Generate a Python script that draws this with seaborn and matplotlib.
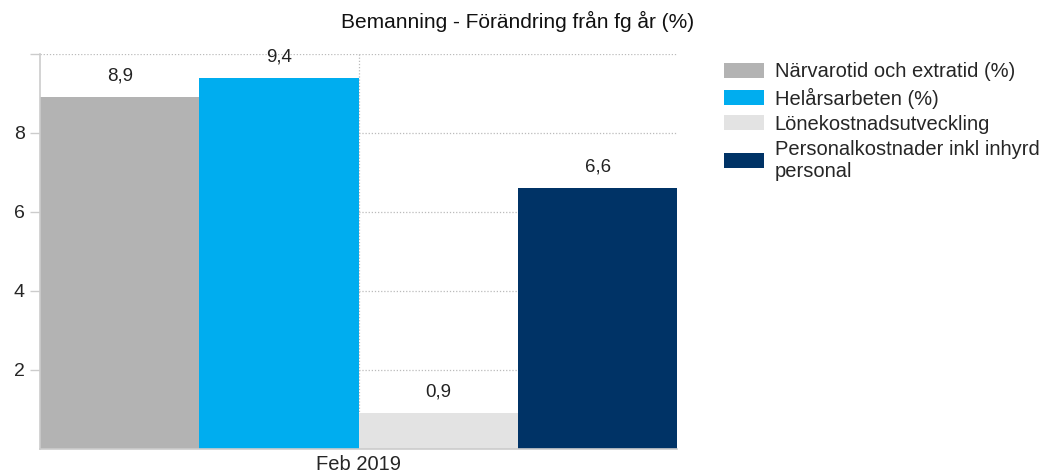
import matplotlib
matplotlib.use("Agg")
import matplotlib.pyplot as plt
import seaborn as sns
import pandas as pd

categories = ["Feb 2019"]
series = ["Närvarotid och extratid (%)", "Helårsarbeten (%)", "Lönekostnadsutveckling",
          "Personalkostnader inkl inhyrd\npersonal"]
values = [8.9, 9.4, 0.9, 6.6]
labels = ["8,9", "9,4", "0,9", "6,6"]
colors = ["#b3b3b3", "#00adef", "#e3e3e3", "#003366"]
yticks = [2, 4, 6, 8]

df = pd.DataFrame({"cat": categories * len(series), "series": series, "value": values})

sns.set_style("white")
plt.rcParams['font.family'] = ['Liberation Sans', 'DejaVu Sans']

fig = plt.figure(figsize=(10.42, 4.73), dpi=100)
ax = fig.add_axes([0.0384, 0.0507, 0.6116, 0.8353])

sns.barplot(data=df, x="cat", y="value", hue="series", palette=colors, width=1.0,
            saturation=1, ax=ax, legend=True, edgecolor="none", linewidth=0)

ax.set_xlim(-0.5, 0.5)
ax.set_ylim(0, 10)
ax.set_yticks(yticks + [10])
ax.set_yticklabels([str(t) for t in yticks] + [""], fontsize=14)
ax.set_xticks([0])
ax.set_xticklabels(categories, fontsize=14.5)
ax.tick_params(axis="x", length=0, pad=4)
ax.tick_params(axis="y", length=7, color="#cccccc", width=1, pad=4, left=True)
ax.set_xlabel("")
ax.set_ylabel("")
ax.set_axisbelow(True)
ax.yaxis.grid(True, linestyle=(0, (1, 1.5)), color="#bbbbbb", linewidth=0.9)
ax.xaxis.grid(True, linestyle=(0, (1, 1.5)), color="#bbbbbb", linewidth=0.9)
for s in ["top", "right"]:
    ax.spines[s].set_visible(False)
for s in ["left", "bottom"]:
    ax.spines[s].set_color("#cccccc")
    ax.spines[s].set_linewidth(1.2)

for cont, lab in zip(ax.containers, labels):
    ax.bar_label(cont, labels=[lab], padding=9, fontsize=13.5, color="#222222")

fig.text(0.497, 0.955, "Bemanning - Förändring från fg år (%)", fontsize=15,
         ha="center", va="center", color="#111111")

h, l = ax.get_legend_handles_labels()
ax.get_legend().remove()
fig.legend(h, l, loc="upper left", bbox_to_anchor=(0.695, 0.868), frameon=False,
           fontsize=14.5, handlelength=2.0, handleheight=0.75, labelspacing=0.3,
           handletextpad=0.5, borderaxespad=0, borderpad=0)

fig.savefig("out.png", dpi=100)
